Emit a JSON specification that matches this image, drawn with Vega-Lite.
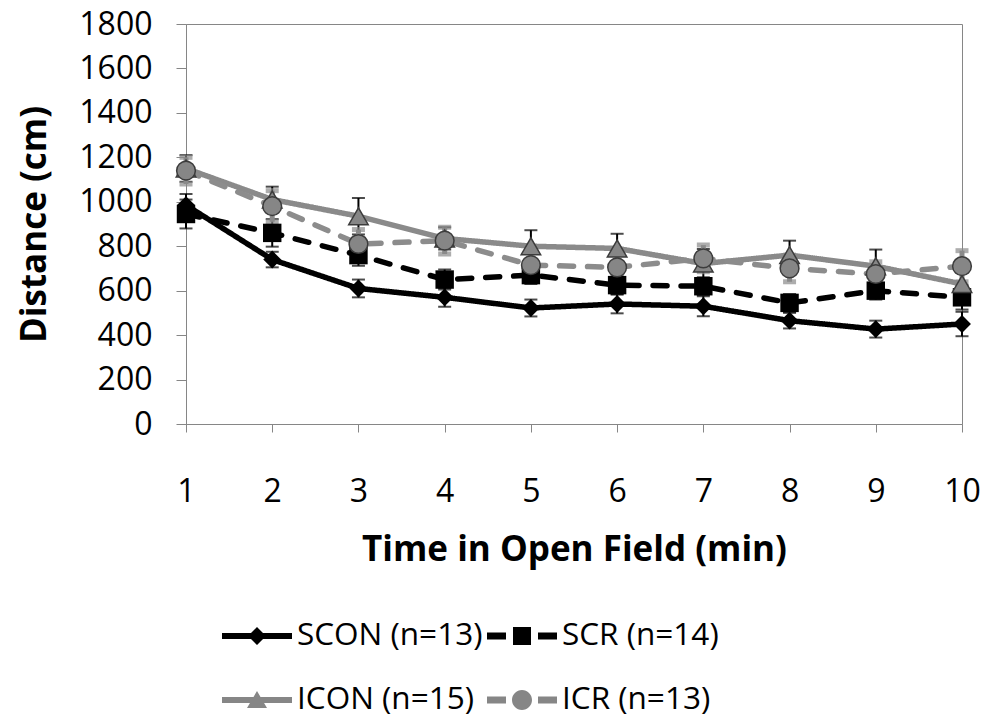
{
  "$schema": "https://vega.github.io/schema/vega-lite/v6.json",
  "width": 776,
  "height": 400,
  "autosize": {"type": "none"},
  "padding": {"left": 186, "top": 24, "right": 25, "bottom": 299},
  "background": "white",
  "config": {
    "font": "Open Sans",
    "view": {"stroke": "#868686", "strokeWidth": 1},
    "axis": {"grid": false, "domainColor": "#868686", "tickColor": "#868686", "labelColor": "black", "titleColor": "black", "labelFont": "Open Sans", "titleFont": "Open Sans"}
  },
  "datasets": {
    "d": [
      {"series": "SCON (n=13)", "minute": 1, "mean": 985, "se": 50},
      {"series": "SCON (n=13)", "minute": 2, "mean": 740, "se": 35},
      {"series": "SCON (n=13)", "minute": 3, "mean": 610, "se": 40},
      {"series": "SCON (n=13)", "minute": 4, "mean": 570, "se": 42},
      {"series": "SCON (n=13)", "minute": 5, "mean": 522, "se": 38},
      {"series": "SCON (n=13)", "minute": 6, "mean": 540, "se": 42},
      {"series": "SCON (n=13)", "minute": 7, "mean": 530, "se": 45},
      {"series": "SCON (n=13)", "minute": 8, "mean": 465, "se": 35},
      {"series": "SCON (n=13)", "minute": 9, "mean": 427, "se": 38},
      {"series": "SCON (n=13)", "minute": 10, "mean": 450, "se": 55},
      {"series": "SCR (n=14)", "minute": 1, "mean": 945, "se": 65},
      {"series": "SCR (n=14)", "minute": 2, "mean": 860, "se": 62},
      {"series": "SCR (n=14)", "minute": 3, "mean": 760, "se": 48},
      {"series": "SCR (n=14)", "minute": 4, "mean": 650, "se": 45},
      {"series": "SCR (n=14)", "minute": 5, "mean": 670, "se": 40},
      {"series": "SCR (n=14)", "minute": 6, "mean": 625, "se": 40},
      {"series": "SCR (n=14)", "minute": 7, "mean": 620, "se": 40},
      {"series": "SCR (n=14)", "minute": 8, "mean": 545, "se": 40},
      {"series": "SCR (n=14)", "minute": 9, "mean": 600, "se": 40},
      {"series": "SCR (n=14)", "minute": 10, "mean": 570, "se": 55},
      {"series": "ICON (n=15)", "minute": 1, "mean": 1150, "se": 60},
      {"series": "ICON (n=15)", "minute": 2, "mean": 1010, "se": 58},
      {"series": "ICON (n=15)", "minute": 3, "mean": 935, "se": 82},
      {"series": "ICON (n=15)", "minute": 4, "mean": 835, "se": 50},
      {"series": "ICON (n=15)", "minute": 5, "mean": 800, "se": 72},
      {"series": "ICON (n=15)", "minute": 6, "mean": 790, "se": 66},
      {"series": "ICON (n=15)", "minute": 7, "mean": 722, "se": 65},
      {"series": "ICON (n=15)", "minute": 8, "mean": 760, "se": 65},
      {"series": "ICON (n=15)", "minute": 9, "mean": 710, "se": 75},
      {"series": "ICON (n=15)", "minute": 10, "mean": 630, "se": 50},
      {"series": "ICR (n=13)", "minute": 1, "mean": 1140, "se": 60},
      {"series": "ICR (n=13)", "minute": 2, "mean": 980, "se": 70},
      {"series": "ICR (n=13)", "minute": 3, "mean": 810, "se": 65},
      {"series": "ICR (n=13)", "minute": 4, "mean": 825, "se": 60},
      {"series": "ICR (n=13)", "minute": 5, "mean": 715, "se": 60},
      {"series": "ICR (n=13)", "minute": 6, "mean": 705, "se": 60},
      {"series": "ICR (n=13)", "minute": 7, "mean": 745, "se": 60},
      {"series": "ICR (n=13)", "minute": 8, "mean": 700, "se": 60},
      {"series": "ICR (n=13)", "minute": 9, "mean": 675, "se": 55},
      {"series": "ICR (n=13)", "minute": 10, "mean": 710, "se": 70}
    ],
    "legendrows": [
      {"series": "SCON (n=13)", "legend_column": "first", "legend_row": "first"},
      {"series": "SCR (n=14)", "legend_column": "second", "legend_row": "first"},
      {"series": "ICON (n=15)", "legend_column": "first", "legend_row": "second"},
      {"series": "ICR (n=13)", "legend_column": "second", "legend_row": "second"}
    ]
  },
  "layer": [
    {
      "data": {"name": "d"},
      "layer": [
        {
          "transform": [{"filter": "datum.series != 'ICR (n=13)'"}],
          "mark": {"type": "errorbar", "color": "black", "thickness": 2, "ticks": {"size": 13, "thickness": 2}},
          "encoding": {
            "x": {
              "field": "minute", "type": "quantitative", "title": "Time in Open Field (min)",
              "scale": {"domain": [1, 10], "nice": false, "zero": false},
              "axis": {
                "values": [1, 2, 3, 4, 5, 6, 7, 8, 9, 10], "format": "d",
                "title": "Time in Open Field (min)",
                "titleFontSize": 35, "titleFontWeight": "bold",
                "titleX": 388, "titleY": 136, "titleBaseline": "alphabetic", "titleAlign": "center",
                "labelFontSize": 32, "labelPadding": 44, "tickSize": 8,
                "labelFlush": false, "labelOverlap": false
              }
            },
            "y": {
              "field": "mean", "type": "quantitative", "title": "Distance (cm)",
              "scale": {"domain": [0, 1800], "nice": false},
              "axis": {
                "values": [0, 200, 400, 600, 800, 1000, 1200, 1400, 1600, 1800], "format": "d",
                "title": "Distance (cm)",
                "titleFontSize": 35, "titleFontWeight": "bold",
                "titleX": -141, "titleY": 200, "titleAngle": -90, "titleBaseline": "alphabetic", "titleAlign": "center",
                "labelFontSize": 32, "labelPadding": 24, "tickSize": 10,
                "labelFlush": false, "labelOverlap": false
              }
            },
            "yError": {"field": "se"}
          }
        },
        {
          "transform": [{"filter": "datum.series == 'ICR (n=13)'"}],
          "mark": {"type": "errorbar", "color": "#8a8a8a", "thickness": 5, "ticks": {"size": 13, "thickness": 5}},
          "encoding": {
            "x": {"field": "minute", "type": "quantitative", "title": "Time in Open Field (min)"},
            "y": {"field": "mean", "type": "quantitative", "title": "Distance (cm)"},
            "yError": {"field": "se"}
          }
        },
        {
          "mark": {"type": "line", "strokeWidth": 5.5, "strokeCap": "round", "strokeJoin": "round"},
          "encoding": {
            "x": {"field": "minute", "type": "quantitative", "title": "Time in Open Field (min)"},
            "y": {"field": "mean", "type": "quantitative", "title": "Distance (cm)"},
            "detail": {"field": "series"},
            "color": {
              "field": "series", "type": "nominal",
              "scale": {"domain": ["SCON (n=13)", "SCR (n=14)", "ICON (n=15)", "ICR (n=13)"], "range": ["#000000", "#000000", "#8a8a8a", "#8c8c8c"]},
              "legend": null
            },
            "strokeDash": {
              "field": "series", "type": "nominal",
              "scale": {"domain": ["SCON (n=13)", "SCR (n=14)", "ICON (n=15)", "ICR (n=13)"], "range": [[1, 0], [14, 14], [1, 0], [14, 14]]},
              "legend": null
            }
          }
        },
        {
          "transform": [{"filter": "datum.series == 'SCON (n=13)'"}],
          "mark": {"type": "point", "shape": "diamond", "filled": true, "fill": "#000000", "size": 320, "opacity": 1},
          "encoding": {"x": {"field": "minute", "type": "quantitative", "title": "Time in Open Field (min)"}, "y": {"field": "mean", "type": "quantitative", "title": "Distance (cm)"}}
        },
        {
          "transform": [{"filter": "datum.series == 'SCR (n=14)'"}],
          "mark": {"type": "point", "shape": "square", "filled": true, "fill": "#000000", "size": 340, "opacity": 1},
          "encoding": {"x": {"field": "minute", "type": "quantitative", "title": "Time in Open Field (min)"}, "y": {"field": "mean", "type": "quantitative", "title": "Distance (cm)"}}
        },
        {
          "transform": [{"filter": "datum.series == 'ICON (n=15)'"}],
          "mark": {"type": "point", "shape": "triangle-up", "filled": true, "fill": "#868686", "stroke": "#3c3c3c", "strokeWidth": 1.5, "size": 380, "opacity": 1},
          "encoding": {"x": {"field": "minute", "type": "quantitative", "title": "Time in Open Field (min)"}, "y": {"field": "mean", "type": "quantitative", "title": "Distance (cm)"}}
        },
        {
          "transform": [{"filter": "datum.series == 'ICR (n=13)'"}],
          "mark": {"type": "point", "shape": "circle", "filled": true, "fill": "#868686", "stroke": "#3c3c3c", "strokeWidth": 1.5, "size": 350, "opacity": 1},
          "encoding": {"x": {"field": "minute", "type": "quantitative", "title": "Time in Open Field (min)"}, "y": {"field": "mean", "type": "quantitative", "title": "Distance (cm)"}}
        }
      ]
    },
    {
      "data": {"name": "legendrows"},
      "encoding": {
        "x": {"field": "legend_column", "type": "nominal", "scale": {"type": "point", "domain": ["first", "second"], "range": [71, 336], "padding": 0}, "axis": null},
        "y": {"field": "legend_row", "type": "nominal", "scale": {"type": "point", "domain": ["first", "second"], "range": [612, 676], "padding": 0}, "axis": null}
      },
      "layer": [
        {
          "mark": {"type": "point", "filled": true, "size": 1600, "opacity": 1},
          "encoding": {
            "shape": {
              "field": "series", "type": "nominal",
              "scale": {
                "domain": ["SCON (n=13)", "SCR (n=14)", "ICON (n=15)", "ICR (n=13)"],
                "range": [
                  "M-1.75,-0.15H1.75V0.15H-1.75Z M0,-0.45L0.45,0L0,0.45L-0.45,0Z",
                  "M-1.75,-0.17H-0.8V0.17H-1.75Z M-0.45,-0.45H0.45V0.45H-0.45Z M0.8,-0.17H1.75V0.17H0.8Z",
                  "M-1.75,-0.15H1.75V0.15H-1.75Z M0,-0.45L0.5,0.4H-0.5Z",
                  "M-1.75,-0.17H-0.8V0.17H-1.75Z M-0.5,0A0.5,0.5,0,1,1,0.5,0A0.5,0.5,0,1,1,-0.5,0Z M0.8,-0.17H1.75V0.17H0.8Z"
                ]
              },
              "legend": null
            },
            "fill": {
              "field": "series", "type": "nominal",
              "scale": {"domain": ["SCON (n=13)", "SCR (n=14)", "ICON (n=15)", "ICR (n=13)"], "range": ["#000000", "#000000", "#868686", "#868686"]},
              "legend": null
            }
          }
        },
        {
          "mark": {"type": "text", "align": "left", "baseline": "middle", "dx": 40, "font": "Open Sans", "fontSize": 31.5, "color": "black"},
          "encoding": {"text": {"field": "series", "type": "nominal"}}
        }
      ]
    }
  ],
  "resolve": {
    "scale": {"x": "independent", "y": "independent"},
    "axis": {"x": "independent", "y": "independent"}
  }
}
